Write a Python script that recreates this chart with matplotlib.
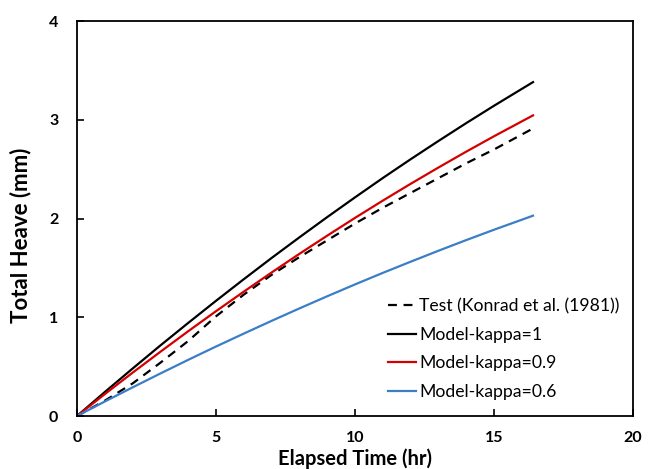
import matplotlib
matplotlib.use("Agg")
import matplotlib.pyplot as plt

t_model = [0, 1, 2, 3, 4, 5, 6, 7, 8, 9, 10, 11, 12, 13, 14, 15, 16.4]
kappa_1 = [0, 0.243, 0.481, 0.715, 0.943, 1.167, 1.386, 1.601, 1.810, 2.015, 2.215, 2.411, 2.601, 2.786, 2.967, 3.143, 3.382]
kappa_09 = [0, 0.222, 0.439, 0.651, 0.859, 1.062, 1.260, 1.454, 1.643, 1.827, 2.007, 2.182, 2.352, 2.517, 2.678, 2.834, 3.045]
kappa_06 = [0, 0.147, 0.290, 0.431, 0.569, 0.704, 0.835, 0.964, 1.090, 1.213, 1.333, 1.450, 1.563, 1.674, 1.782, 1.887, 2.029]
t_test = [0, 1, 2, 3, 4, 5, 6, 7, 8, 9, 10, 11, 12, 13, 14, 15, 16.45]
test = [0, 0.155, 0.33, 0.54, 0.76, 1.01, 1.23, 1.43, 1.61, 1.78, 1.95, 2.11, 2.26, 2.41, 2.56, 2.70, 2.92]

plt.rcParams['font.family'] = ['Lato', 'DejaVu Sans']

fig = plt.figure(figsize=(6.5, 4.69), dpi=100)
ax = fig.add_axes([0.1185, 0.113, 0.8555, 0.842])

lw = 1.6
ax.plot(t_test, test, color='black', lw=lw, linestyle=(0, (4, 3)), label='Test (Konrad et al. (1981))')
ax.plot(t_model, kappa_1, color='black', lw=lw, label='Model-kappa=1')
ax.plot(t_model, kappa_09, color='#D40000', lw=lw, label='Model-kappa=0.9')
ax.plot(t_model, kappa_06, color='#3B7EC6', lw=lw, label='Model-kappa=0.6')

ax.set_xlim(0, 20)
ax.set_ylim(0, 4)
ax.set_xticks([0, 5, 10, 15, 20])
ax.set_yticks([0, 1, 2, 3, 4])
ax.tick_params(direction='in', length=5, width=1.2, labelsize=11.5)
ax.tick_params(axis='x', pad=11)
ax.tick_params(axis='y', pad=13.5)
for lab in ax.get_xticklabels() + ax.get_yticklabels():
    lab.set_fontweight('bold')
for s in ax.spines.values():
    s.set_linewidth(1.3)

ax.set_xlabel('Elapsed Time (hr)', fontsize=14.5, fontweight='bold')
ax.set_ylabel('Total Heave (mm)', fontsize=16, fontweight='bold')
ax.xaxis.set_label_coords(0.5, -0.081)
ax.yaxis.set_label_coords(-0.083, 0.457)

ax.legend(loc='lower right', bbox_to_anchor=(1.004, 0.0), frameon=False, fontsize=12.7,
          handlelength=1.6, handletextpad=0.15, labelspacing=0.72)

fig.savefig('out.png', dpi=100)
